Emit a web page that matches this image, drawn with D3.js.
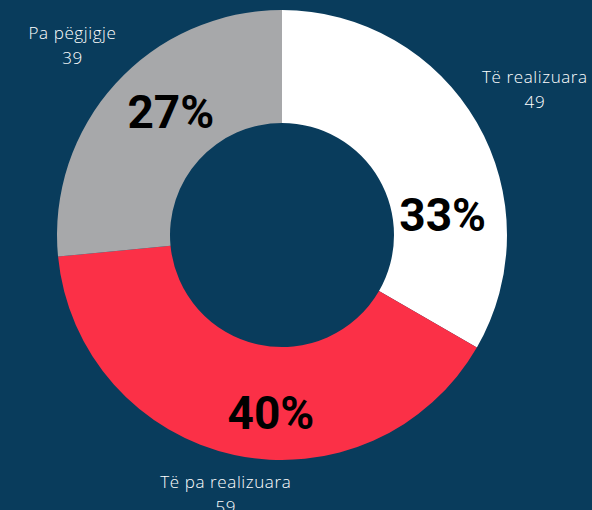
<!DOCTYPE html>
<html lang="sq">
<head>
  <meta charset="UTF-8">
  <title>Donut</title>
  <style>
    html, body { margin: 0; padding: 0; background: #093c5c; }
    svg { display: block; }
  </style>
</head>
<body>
  <script src="https://d3js.org/d3.v7.min.js"></script>
  <script>
    const categories = ['Të realizuara', 'Të pa realizuara', 'Pa pëgjigje'];
    const values = [49, 59, 39];
    const colors = ['#ffffff', '#fb3047', '#a7a8aa'];

    const width = 592, height = 510;
    const cx = 282, cy = 235;
    const outerR = 225, innerR = 112;

    // where the big % sits inside each slice: fraction along the slice, radius
    const pctPlace = [[0.69, 162], [0.44, 178], [0.56, 166]];

    const svg = d3.select('body').append('svg').attr('width', width).attr('height', height);
    const g = svg.append('g').attr('transform', `translate(${cx},${cy})`);

    const total = d3.sum(values);
    const data = categories.map((c, i) => ({ name: c, value: values[i], color: colors[i], i }));

    const pie = d3.pie().value(d => d.value).sort(null);
    const arcs = pie(data);
    const arc = d3.arc().innerRadius(innerR).outerRadius(outerR);

    g.selectAll('path.slice')
      .data(arcs)
      .enter()
      .append('path')
      .attr('class', 'slice')
      .attr('d', arc)
      .attr('fill', d => d.data.color);

    // percentage labels
    g.selectAll('text.pct')
      .data(arcs)
      .enter()
      .append('text')
      .attr('class', 'pct')
      .attr('transform', d => {
        const [f, r] = pctPlace[d.data.i];
        const a = d.startAngle + (d.endAngle - d.startAngle) * f;
        return `translate(${r * Math.sin(a)},${-r * Math.cos(a)})`;
      })
      .attr('text-anchor', 'middle')
      .attr('dy', '0.36em')
      .style('font-family', 'Roboto, sans-serif')
      .style('font-weight', 700)
      .style('font-size', '46px')
      .style('fill', '#000')
      .text(d => Math.round(d.value / total * 100) + '%');

    // outside labels, pushed out along the mid angle until the box clears the ring
    const gap = 9, lineGap = 25;
    arcs.forEach(d => {
      const lab = g.append('text')
        .attr('text-anchor', 'middle')
        .style('font-family', '"Open Sans", sans-serif')
        .style('font-weight', 300)
        .style('font-size', '17px')
        .style('letter-spacing', '0.6px')
        .style('fill', '#ffffff');
      lab.append('tspan').attr('x', 0).attr('y', 0).text(d.data.name);
      lab.append('tspan').attr('x', 0).attr('y', lineGap).text(d.data.value);
      const bb = lab.node().getBBox();
      const a = (d.startAngle + d.endAngle) / 2;
      let r = outerR;
      for (; r < 400; r += 1) {
        const px = r * Math.sin(a), py = -r * Math.cos(a);
        const x0 = px - bb.width / 2, x1 = px + bb.width / 2;
        const y0 = py - bb.height / 2, y1 = py + bb.height / 2;
        const nx = Math.max(x0, Math.min(0, x1)), ny = Math.max(y0, Math.min(0, y1));
        if (Math.hypot(nx, ny) >= outerR + gap) break;
      }
      const px = r * Math.sin(a), py = -r * Math.cos(a);
      lab.attr('transform', `translate(${px},${py - bb.y - bb.height / 2})`);
    });
  </script>
</body>
</html>
